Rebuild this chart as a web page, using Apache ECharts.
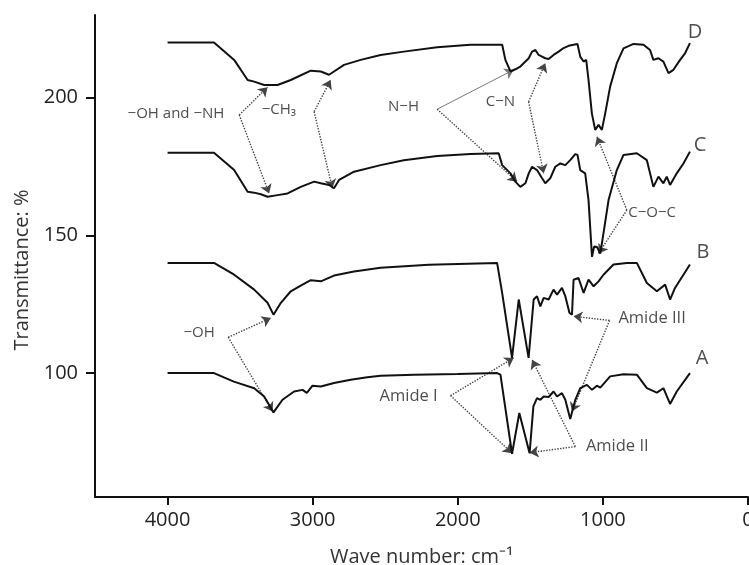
<!DOCTYPE html>
<html>
<head>
<meta charset="utf-8">
<script src="https://cdn.jsdelivr.net/npm/echarts@6/dist/echarts.min.js"></script>
<style>
  html, body { margin: 0; padding: 0; background: #fff; }
  #chart { width: 749px; height: 565px; }
</style>
</head>
<body>
<div id="chart"></div>
<script>
// [wave number, transmittance]
const curveA = [[4000,100],[3680,100],[3543,96.9],[3403,94.5],[3334,91.5],[3270,85.7],[3208,90.3],[3128,93.3],[3070,93.9],[3040,92.8],[3001,95.4],[2944,95.1],[2853,96.4],[2738,97.6],[2623,98.5],[2532,99.0],[2300,99.4],[2000,99.7],[1729,100],[1706,99.4],[1626,70.7],[1576,85.5],[1505,70.9],[1479,87.9],[1454,90.9],[1431,90.3],[1408,91.5],[1374,91.3],[1340,93.3],[1316,91.5],[1282,92.7],[1259,90.3],[1225,83.3],[1190,90.3],[1156,94.5],[1110,95.7],[1075,93.9],[1041,95.4],[1018,94.7],[950,98.8],[858,99.6],[766,99.4],[697,94.5],[628,92.9],[583,94.5],[537,88.8],[491,93.3],[400,100]]
const curveB = [[4000,140],[3680,140],[3541,135.7],[3403,130.3],[3311,125.5],[3270,121.2],[3219,125.5],[3151,129.7],[3070,132.1],[3013,133.7],[2944,133.3],[2853,135.4],[2715,136.9],[2532,138.2],[2200,139.3],[1729,140],[1694,129],[1626,105.5],[1580,126.7],[1512,105.5],[1477,126.7],[1454,127.9],[1431,124.2],[1408,127.3],[1374,126.7],[1340,130.3],[1316,128.5],[1282,130.9],[1259,127.9],[1230,121.8],[1213,121.2],[1202,133.9],[1168,134.5],[1133,129.1],[1099,133.9],[1064,131.5],[1030,133.3],[996,135.7],[927,139.4],[835,140],[766,140],[697,132.7],[628,129.7],[571,132.1],[537,126.7],[503,130.9],[400,139.4]]
const curveC = [[4000,180],[3680,180],[3541,173.7],[3448,165.8],[3403,165.5],[3357,164.9],[3311,164.0],[3242,164.6],[3173,165.2],[3082,167.6],[2990,169.5],[2944,168.9],[2887,168.3],[2853,167.1],[2818,170.1],[2715,173.1],[2532,175.5],[2372,177.3],[2142,178.8],[1913,179.5],[1718,179.8],[1694,175.5],[1637,172.5],[1603,169.5],[1569,167.6],[1534,168.9],[1511,172.5],[1488,174.9],[1454,173.7],[1419,170.7],[1397,168.9],[1363,170.7],[1328,174.9],[1293,176.1],[1259,175.5],[1225,177.3],[1190,179.5],[1175,179.2],[1156,173.7],[1122,172.5],[1099,162.8],[1075,142.2],[1060,146],[1041,145.8],[1018,143.4],[996,150.7],[961,162.8],[904,173.7],[858,179.2],[766,179.8],[697,177.3],[652,167.6],[617,171.3],[583,168.9],[560,171.3],[537,168.3],[491,172.5],[445,176.1],[400,180.4]]
const curveD = [[4000,220],[3680,220],[3541,213.7],[3448,206.4],[3403,205.8],[3334,204.6],[3242,204.6],[3151,206.4],[3013,209.8],[2944,209.5],[2887,208.3],[2853,209.5],[2784,211.9],[2669,213.7],[2532,215.5],[2372,216.7],[2142,218.3],[1913,219.2],[1694,219.2],[1672,213.7],[1637,209.5],[1603,210.3],[1569,211.3],[1534,213.1],[1511,214.3],[1488,216.7],[1465,217.3],[1443,215.5],[1419,214.9],[1397,214.3],[1374,214.0],[1340,215.5],[1305,216.7],[1271,218.0],[1236,218.8],[1202,219.2],[1175,219.5],[1156,214.9],[1133,213.1],[1115,213.7],[1099,206.4],[1076,194.3],[1053,188.3],[1030,190.1],[1007,188.3],[984,194.3],[950,204.0],[904,212.5],[858,217.9],[789,219.5],[720,219.2],[675,217.3],[652,213.7],[617,214.3],[583,213.1],[548,208.9],[514,210.1],[468,213.7],[434,216.1],[400,219.8]]

const xTicks = [0, 1000, 2000, 3000, 4000]
const yTicks = [100, 150, 200]

// annotation: label, label position, vertex, arrow tips
const notes = [
  { text: '−OH and −NH', at: [3942, 194.1], vertex: [3506, 193.7], tips: [[3311, 203.8], [3300, 165.2]], size: 15 },
  { text: '−CH₃', at: [3233, 195.5], vertex: [2990, 194.9], tips: [[2876, 206.4], [2864, 167.1]], size: 15 },
  { text: 'N−H', at: [2374, 196.6], vertex: [2142, 195.8], tips: [[1615, 210.1], [1591, 169.5]], size: 15, solidFirst: true },
  { text: 'C−N', at: [1706, 198.4], vertex: [1512, 198.5], tips: [[1397, 212.5], [1408, 172.5]], size: 15 },
  { text: 'C−O−C', at: [661, 158.1], vertex: [835, 159.2], tips: [[1041, 185.8], [1030, 143.4]], size: 15 },
  { text: '−OH', at: [3783, 114.5], vertex: [3582, 113], tips: [[3288, 120], [3276, 86]], size: 15 },
  { text: 'Amide I', at: [2339, 91.7], vertex: [2050, 91.8], tips: [[1615, 105.5], [1626, 70.9]], size: 16.5 },
  { text: 'Amide II', at: [901, 73.3], vertex: [1190, 73.3], tips: [[1488, 104.8], [1505, 71.1]], size: 16.5 },
  { text: 'Amide III', at: [661, 120], vertex: [954, 119.1], tips: [[1202, 120.6], [1213, 86]], size: 16.5 },
]
const curveNames = [
  { text: 'A', at: [317, 105.2] },
  { text: 'B', at: [310, 143.9] },
  { text: 'C', at: [330, 182.8] },
  { text: 'D', at: [365, 223.9] },
]

const font = 'Open Sans'
const ink = '#111'

const arrowData = []
notes.forEach(n => {
  n.tips.forEach((t, i) => {
    const item = { coords: [n.vertex, t] }
    if (n.solidFirst && i === 0) {
      item.lineStyle = { type: 'solid', color: '#777', width: 1 }
    }
    arrowData.push(item)
  })
})

const labelData = notes.map(n => ({
  value: n.at,
  label: { formatter: n.text, fontSize: n.size },
})).concat(curveNames.map(c => ({
  value: c.at,
  label: { formatter: c.text, fontSize: 20 },
})))

function curve(data) {
  return {
    type: 'line',
    data: data,
    showSymbol: false,
    symbol: 'none',
    silent: true,
    lineStyle: { color: ink, width: 2 },
  }
}

const myChart = echarts.init(document.getElementById('chart'))
myChart.setOption({
  animation: false,
  grid: {
    left: 95,
    right: 1,
    top: 15,
    bottom: 68,
    outerBoundsMode: 'none',
    containLabel: false,
  },
  xAxis: {
    type: 'value',
    min: 0,
    max: 4500,
    inverse: true,
    name: 'Wave number: cm⁻¹',
    nameLocation: 'middle',
    nameGap: 50,
    nameTextStyle: { fontFamily: font, fontSize: 20, color: '#333' },
    axisLine: { onZero: false, lineStyle: { color: ink, width: 2 } },
    axisTick: { customValues: xTicks, length: 8, lineStyle: { color: ink, width: 2 } },
    axisLabel: {
      customValues: xTicks,
      margin: 13,
      fontFamily: font,
      fontSize: 20,
      color: '#222',
      formatter: v => String(v),
    },
    splitLine: { show: false },
  },
  yAxis: {
    type: 'value',
    min: 55,
    max: 230,
    name: 'Transmittance: %',
    nameLocation: 'middle',
    nameGap: 62,
    nameTextStyle: { fontFamily: font, fontSize: 20, color: '#333', padding: [0, 28, 0, 0] },
    axisLine: { show: true, onZero: false, lineStyle: { color: ink, width: 2 } },
    axisTick: { show: true, customValues: yTicks, length: 9, lineStyle: { color: ink, width: 2 } },
    axisLabel: {
      customValues: yTicks,
      margin: 17,
      fontFamily: font,
      fontSize: 20,
      color: '#222',
      formatter: v => String(v),
    },
    splitLine: { show: false },
  },
  series: [
    curve(curveA),
    curve(curveB),
    curve(curveC),
    curve(curveD),
    {
      type: 'lines',
      coordinateSystem: 'cartesian2d',
      silent: true,
      symbol: ['none', 'arrow'],
      symbolSize: 9,
      lineStyle: { color: '#444', width: 1.4, type: 'dotted', opacity: 1 },
      data: arrowData,
    },
    {
      type: 'scatter',
      silent: true,
      symbolSize: 1,
      itemStyle: { color: 'transparent' },
      label: {
        show: true,
        position: 'inside',
        align: 'center',
        verticalAlign: 'middle',
        fontFamily: font,
        color: '#222',
      },
      data: labelData,
    },
  ],
})
</script>
</body>
</html>
